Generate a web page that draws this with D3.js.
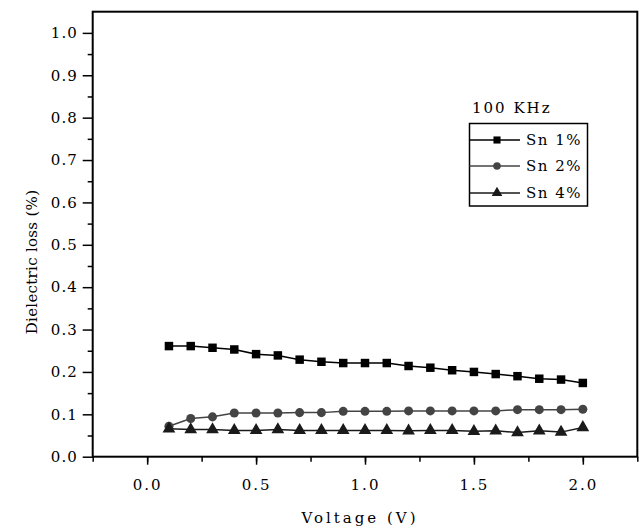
<!DOCTYPE html>
<html>
<head>
<meta charset="utf-8">
<script src="https://cdn.jsdelivr.net/npm/d3@7/dist/d3.min.js"></script>
<style>
  body { margin: 0; background: #fff; }
  svg { display: block; }
  text { font-family: "DejaVu Serif", "Liberation Serif", serif; fill: #000; }
</style>
</head>
<body>
<svg id="chart" width="643" height="531"></svg>
<script>
const voltage = [0.1, 0.2, 0.3, 0.4, 0.5, 0.6, 0.7, 0.8, 0.9, 1.0, 1.1, 1.2, 1.3, 1.4, 1.5, 1.6, 1.7, 1.8, 1.9, 2.0];
const sn1 = [0.261, 0.261, 0.257, 0.253, 0.242, 0.239, 0.229, 0.224, 0.221, 0.221, 0.221, 0.214, 0.210, 0.204, 0.200, 0.195, 0.190, 0.184, 0.182, 0.174];
const sn2 = [0.072, 0.090, 0.094, 0.103, 0.103, 0.103, 0.104, 0.104, 0.107, 0.107, 0.107, 0.108, 0.108, 0.108, 0.108, 0.108, 0.111, 0.111, 0.111, 0.112];
const sn4 = [0.066, 0.064, 0.064, 0.062, 0.062, 0.064, 0.062, 0.062, 0.062, 0.062, 0.062, 0.061, 0.062, 0.062, 0.060, 0.061, 0.057, 0.061, 0.058, 0.069];
const seriesNames = ["Sn 1%", "Sn 2%", "Sn 4%"];
const xTicks = [0.0, 0.5, 1.0, 1.5, 2.0];
const yTicks = [0.0, 0.1, 0.2, 0.3, 0.4, 0.5, 0.6, 0.7, 0.8, 0.9, 1.0];
const legendTitle = "100 KHz";
const xTitle = "Voltage (V)";
const yTitle = "Dielectric loss (%)";

(function () {
const series = [
  { name: seriesNames[0], values: sn1, symbol: d3.symbolSquare, color: "#000", size: 72 },
  { name: seriesNames[1], values: sn2, symbol: d3.symbolCircle, color: "#444", size: 64 },
  { name: seriesNames[2], values: sn4, symbol: d3.symbolTriangle, color: "#1a1a1a", size: 70 }
];

const svg = d3.select("#chart");
const pL = 92.7, pR = 637.3, pT = 11.7, pB = 456.7;
const FONT = '"DejaVu Serif", serif';

const x = d3.scaleLinear().domain([-0.25, 2.25]).range([pL, pR]);
const y = d3.scaleLinear().domain([0, 1.05]).range([pB, pT]);

// frame
svg.append("rect").attr("x", pL).attr("y", pT)
  .attr("width", pR - pL).attr("height", pB - pT)
  .attr("fill", "none").attr("stroke", "#000").attr("stroke-width", 2);

// x axis
const xAxis = svg.append("g").attr("transform", `translate(0,${pB})`);
xAxis.call(d3.axisBottom(x).tickValues(d3.range(-0.25, 2.26, 0.25)).tickSize(5).tickFormat(""))
  .call(g => g.select(".domain").remove())
  .call(g => g.selectAll("line").attr("stroke-width", 1.5));
xAxis.append("g").call(d3.axisBottom(x).tickValues(xTicks).tickSize(8).tickFormat(d3.format(".1f")))
  .call(g => g.select(".domain").remove())
  .call(g => g.selectAll("line").attr("stroke-width", 1.5))
  .call(g => g.selectAll("text").attr("dy", "1.5em").style("font-size", "15px")
    .style("letter-spacing", "2px").style("font-family", FONT).attr("fill", "#000"));

// y axis
const yAxis = svg.append("g").attr("transform", `translate(${pL},0)`);
yAxis.call(d3.axisLeft(y).tickValues(d3.range(0.05, 1.05, 0.1)).tickSize(5).tickFormat(""))
  .call(g => g.select(".domain").remove())
  .call(g => g.selectAll("line").attr("stroke-width", 1.5));
yAxis.append("g").call(d3.axisLeft(y).tickValues(yTicks).tickSize(10).tickPadding(5).tickFormat(d3.format(".1f")))
  .call(g => g.select(".domain").remove())
  .call(g => g.selectAll("line").attr("stroke-width", 1.5))
  .call(g => g.selectAll("text").style("font-size", "15px").style("letter-spacing", "1px")
    .style("font-family", FONT).attr("fill", "#000"));

// titles
svg.append("text").attr("x", 360).attr("y", 523).attr("text-anchor", "middle")
  .style("font-size", "15px").style("letter-spacing", "3px").text(xTitle);
svg.append("text").attr("transform", "translate(37,262) rotate(-90)").attr("text-anchor", "middle")
  .style("font-size", "15px").style("letter-spacing", "0.3px").text(yTitle);

// series
const line = d3.line().x((d, i) => x(voltage[i])).y(d => y(d));
series.forEach(s => {
  svg.append("path").datum(s.values).attr("d", line)
    .attr("fill", "none").attr("stroke", s.color).attr("stroke-width", 1.5);
  svg.append("g").selectAll("path").data(s.values).join("path")
    .attr("transform", (d, i) => `translate(${x(voltage[i])},${y(d)})`)
    .attr("d", d3.symbol().type(s.symbol).size(s.size))
    .attr("fill", s.color);
});

// legend
svg.append("text").attr("x", 472).attr("y", 113).style("font-size", "15px")
  .style("letter-spacing", "2px").text(legendTitle);
svg.append("rect").attr("x", 469.5).attr("y", 123.5).attr("width", 118).attr("height", 82.5)
  .attr("fill", "#fff").attr("stroke", "#000").attr("stroke-width", 1.5);
const ly = [140, 166, 193];
series.forEach((s, i) => {
  svg.append("line").attr("x1", 469.5).attr("x2", 520).attr("y1", ly[i]).attr("y2", ly[i])
    .attr("stroke", s.color).attr("stroke-width", 1.5);
  svg.append("path").attr("transform", `translate(497,${ly[i]})`)
    .attr("d", d3.symbol().type(s.symbol).size(s.size * 0.7)).attr("fill", s.color);
  svg.append("text").attr("x", 526).attr("y", ly[i] + 5).style("font-size", "15px")
    .style("letter-spacing", "1.5px").text(s.name);
});
})();
</script>
</body>
</html>
